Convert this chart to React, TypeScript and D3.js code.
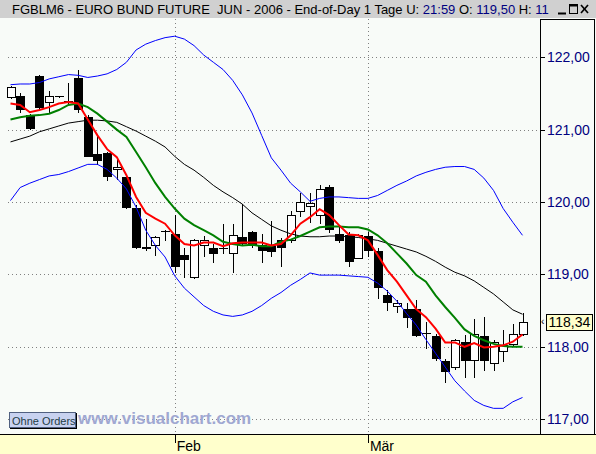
import * as d3 from 'd3'
import { useEffect } from 'react'

// trading days shown (Jan 9 - Mar 23, 2006)
const dates = [
  '2006-01-09', '2006-01-10', '2006-01-11', '2006-01-12', '2006-01-13', '2006-01-16',
  '2006-01-17', '2006-01-18', '2006-01-19', '2006-01-20', '2006-01-23', '2006-01-24',
  '2006-01-25', '2006-01-26', '2006-01-27', '2006-01-30', '2006-01-31',
  '2006-02-01', '2006-02-02', '2006-02-03', '2006-02-06', '2006-02-07', '2006-02-08',
  '2006-02-09', '2006-02-10', '2006-02-13', '2006-02-14', '2006-02-15', '2006-02-16',
  '2006-02-17', '2006-02-20', '2006-02-21', '2006-02-22', '2006-02-23', '2006-02-24',
  '2006-02-27', '2006-02-28',
  '2006-03-01', '2006-03-02', '2006-03-03', '2006-03-06', '2006-03-07', '2006-03-08',
  '2006-03-09', '2006-03-10', '2006-03-13', '2006-03-14', '2006-03-15', '2006-03-16',
  '2006-03-17', '2006-03-20', '2006-03-21', '2006-03-22', '2006-03-23',
]

const open = [
  121.45, 121.46, 121.2, 121.74, 121.38, 121.46, 121.4, 121.71, 121.17, 120.66, 120.67, 120.45,
  120.34, 119.92, 119.38, 119.41, 119.6,
  119.56, 119.27, 118.96, 119.41, 119.37, 119.37, 119.29, 119.51, 119.58, 119.4, 119.39, 119.47,
  119.47, 119.88, 119.94, 119.82, 120.21, 119.56, 119.54, 119.23,
  119.53, 119.33, 118.71, 118.56, 118.52, 118.52, 118.19, 118.15, 117.81, 117.72, 118.07, 117.82,
  118.15, 117.77, 117.94, 118.04, 118.18,
]
const high = [
  121.6, 121.51, 121.22, 121.76, 121.53, 121.47, 121.65, 121.82, 121.2, 120.92, 120.69, 120.59,
  120.37, 119.96, 119.76, 119.53, 119.62,
  119.82, 119.36, 119.49, 119.53, 119.42, 119.7, 119.69, 119.97, 119.6, 119.56, 119.74, 119.5,
  119.88, 120.12, 120.13, 120.23, 120.24, 119.68, 119.58, 119.56,
  119.58, 119.36, 118.78, 118.64, 118.6, 118.64, 118.34, 118.17, 117.83, 118.11, 118.16, 118.39,
  118.41, 118.09, 118.23, 118.32, 118.47,
]
const low = [
  121.44, 121.24, 121.01, 121.28, 121.23, 121.45, 121.36, 121.24, 120.63, 120.52, 120.3, 120.32,
  119.92, 119.36, 119.34, 119.27, 119.48,
  119.03, 118.97, 118.95, 119.25, 119.17, 119.3, 119.03, 119.4, 119.38, 119.17, 119.25, 119.11,
  119.45, 119.8, 119.73, 119.71, 119.59, 119.45, 119.11, 119.22,
  119.25, 118.67, 118.51, 118.48, 118.28, 118.15, 117.98, 117.82, 117.52, 117.7, 117.58, 117.58,
  117.68, 117.68, 117.81, 118.02, 118.16,
]
const close = [
  121.59, 121.29, 121.02, 121.31, 121.46, 121.46, 121.4, 121.29, 120.64, 120.58, 120.36, 120.49,
  119.93, 119.38, 119.36, 119.52, 119.6,
  119.12, 119.21, 119.48, 119.48, 119.3, 119.37, 119.55, 119.44, 119.41, 119.34, 119.32, 119.38,
  119.82, 120.0, 119.98, 120.18, 119.63, 119.47, 119.19, 119.54,
  119.34, 118.82, 118.62, 118.6, 118.41, 118.16, 118.19, 117.84, 117.67, 118.09, 117.82, 118.18,
  117.82, 118.07, 118.02, 118.18, 118.34,
]

// red average
const fastAvg = [
  121.36, 121.34, 121.24, 121.27, 121.31, 121.36, 121.38, 121.36, 121.14, 120.92, 120.73, 120.62,
  120.37, 120.07, 119.85, 119.77, 119.7,
  119.54, 119.42, 119.4, 119.44, 119.44, 119.39, 119.43, 119.44, 119.44, 119.44, 119.4, 119.42,
  119.54, 119.7, 119.79, 119.9, 119.82, 119.68, 119.55, 119.54,
  119.47, 119.27, 119.06, 118.9, 118.71, 118.52, 118.41, 118.25, 118.06, 118.06, 118.0, 118.05,
  117.99, 118.0, 118.02, 118.07, 118.17,
]
// green average
const slowAvg = [
  121.14, 121.17, 121.19, 121.2, 121.22, 121.27, 121.34, 121.36, 121.31, 121.22, 121.11, 121.0,
  120.9, 120.69, 120.48, 120.26, 120.07,
  119.91, 119.77, 119.68, 119.61, 119.54, 119.45, 119.42, 119.4, 119.41, 119.39, 119.39, 119.45,
  119.48, 119.53, 119.59, 119.65, 119.66, 119.66, 119.65, 119.65,
  119.62, 119.54, 119.43, 119.29, 119.15, 118.99, 118.9, 118.71, 118.55, 118.4, 118.24, 118.15,
  118.09, 118.04, 118.01, 118.0, 118.0,
]
// thin black average
const longAvg = [
  120.83, 120.87, 120.91, 120.97, 121.01, 121.05, 121.09, 121.11, 121.13, 121.13, 121.12, 121.1,
  121.04, 120.98, 120.91, 120.84, 120.76,
  120.63, 120.52, 120.44, 120.34, 120.23, 120.14, 120.06, 119.97, 119.85, 119.76, 119.67, 119.61,
  119.56, 119.53, 119.52, 119.52, 119.53, 119.53, 119.52, 119.51,
  119.49, 119.47, 119.43, 119.39, 119.35, 119.31, 119.25, 119.18, 119.1, 119.03, 118.98, 118.91,
  118.82, 118.73, 118.62, 118.51, 118.45,
]
// blue bands
const upperBand = [
  121.62, 121.63, 121.63, 121.65, 121.7, 121.73, 121.76, 121.75, 121.72, 121.74, 121.77, 121.83,
  121.93, 122.1, 122.18, 122.23, 122.27,
  122.29, 122.25, 122.16, 122.03, 121.93, 121.83, 121.68, 121.48, 121.23, 120.92, 120.61, 120.44,
  120.26, 120.14, 120.01, 120.05, 120.07, 120.07, 120.06, 120.05,
  120.05, 120.09, 120.16, 120.23, 120.29, 120.36, 120.41, 120.45, 120.48, 120.49, 120.49, 120.45,
  120.33, 120.16, 119.91, 119.72, 119.54,
]
const lowerBand = [
  120.02, 120.2, 120.26, 120.31, 120.36, 120.38, 120.42, 120.47, 120.52, 120.52, 120.45, 120.33,
  120.18, 119.93, 119.61, 119.4, 119.24,
  118.98, 118.81, 118.69, 118.57, 118.49, 118.44, 118.42, 118.44, 118.49, 118.57, 118.67, 118.75,
  118.85, 118.93, 119.02, 118.99, 118.99, 118.99, 118.98, 118.97,
  118.96, 118.88, 118.77, 118.63, 118.46, 118.3, 118.1, 117.91, 117.72, 117.53, 117.39, 117.26,
  117.19, 117.15, 117.15, 117.24, 117.3,
]

const priceTicks = [117, 118, 119, 120, 121, 122]
const monthDates = ['2006-02-01', '2006-03-01']
const monthLabels = ['Feb', 'Mär']
const lastPrice = 118.34

const titleParts = [
  { text: 'FGBLM6 - EURO BUND FUTURE  JUN - 2006 - End-of-Day 1 Tage U: ', value: false },
  { text: '21:59', value: true },
  { text: ' O: ', value: false },
  { text: '119,50', value: true },
  { text: ' H: ', value: false },
  { text: '11', value: true },
]

const width = 596
const height = 454
const titleHeight = 18
const plotRight = 540
const axisTop = 434
const font = '"Liberation Sans", Arial, sans-serif'
const navy = '#000080'

export default function App() {
  useEffect(() => {
    document.body.style.margin = '0'
  }, [])

  const x = d3.scalePoint(dates, [10.5, 522.5])
  const y = d3.scaleLinear([117, 122], [419.2, 57.2])
  const fmt = (v: number) => d3.format('.2f')(v).replace('.', ',')
  const px = (v: number) => Math.round(v) + 0.5

  const line = d3
    .line<number>()
    .x((_, i) => x(dates[i]) as number)
    .y((d) => y(d))

  return (
    <svg width={width} height={height} style={{ display: 'block' }}>
      <defs>
        <clipPath id="title-clip">
          <rect x={0} y={0} width={554} height={titleHeight} />
        </clipPath>
      </defs>

      {/* title bar */}
      <rect x={0} y={0} width={width} height={titleHeight} fill="#d0d0d0" />
      <text
        x={12}
        y={13.5}
        fontFamily={font}
        fontSize={13}
        style={{ whiteSpace: 'pre' }}
        clipPath="url(#title-clip)"
      >
        {titleParts.map((p, i) => (
          <tspan key={i} fill={p.value ? navy : '#000'}>
            {p.text}
          </tspan>
        ))}
      </text>
      <g stroke="#000" fill="none">
        <line x1={558} x2={566} y1={13.5} y2={13.5} strokeWidth={2} />
        <rect x={569.5} y={4.5} width={8} height={9} />
        <line x1={569.5} x2={577.5} y1={5.5} y2={5.5} strokeWidth={2} />
        <line x1={581} x2={588} y1={5} y2={13} strokeWidth={1.6} />
        <line x1={588} x2={581} y1={5} y2={13} strokeWidth={1.6} />
      </g>

      {/* plot background */}
      <rect x={0} y={titleHeight} width={width} height={axisTop - titleHeight} fill="#f8fbf8" />

      {/* grid */}
      <g stroke="#808080" strokeDasharray="1,3">
        {priceTicks.map((t) => (
          <line key={t} x1={8} x2={plotRight} y1={px(y(t))} y2={px(y(t))} />
        ))}
        {monthDates.map((d) => (
          <line key={d} x1={px(x(d) as number)} x2={px(x(d) as number)} y1={titleHeight + 1} y2={axisTop} />
        ))}
      </g>

      {/* candles */}
      <g>
        {dates.map((d, i) => {
          const cx = Math.round(x(d) as number)
          const up = close[i] >= open[i]
          const top = Math.round(y(Math.max(open[i], close[i])))
          const bot = Math.round(y(Math.min(open[i], close[i])))
          return (
            <g key={d}>
              <line
                x1={cx + 0.5}
                x2={cx + 0.5}
                y1={Math.round(y(high[i]))}
                y2={Math.round(y(low[i])) + 1}
                stroke="#000"
              />
              {bot - top < 1 ? (
                <line x1={cx - 4} x2={cx + 5} y1={top + 0.5} y2={top + 0.5} stroke="#000" />
              ) : (
                <rect
                  x={cx - 3.5}
                  y={top + 0.5}
                  width={8}
                  height={bot - top}
                  fill={up ? '#fff' : '#000'}
                  stroke="#000"
                />
              )}
            </g>
          )
        })}
      </g>

      {/* indicators */}
      <g fill="none">
        <path d={line(upperBand) as string} stroke="#0000ff" strokeWidth={1} />
        <path d={line(lowerBand) as string} stroke="#0000ff" strokeWidth={1} />
        <path d={line(longAvg) as string} stroke="#000" strokeWidth={1} />
        <path d={line(slowAvg) as string} stroke="#008000" strokeWidth={2} />
        <path d={line(fastAvg) as string} stroke="#ff0000" strokeWidth={2} />
      </g>

      {/* watermark and button */}
      <text x={78} y={424} fontFamily={font} fontWeight="bold" fontSize={17} fill="#a0a8d2">
        www.visualchart.com
      </text>
      <rect x={9.5} y={412.5} width={66} height={15} fill="#c8d2f0" stroke="#506080" />
      <line x1={76.5} x2={76.5} y1={413} y2={429} stroke="#000" />
      <line x1={10} x2={77} y1={428.5} y2={428.5} stroke="#000" />
      <text x={12} y={424.5} fontFamily={font} fontSize={11} fill="#1e3c46">
        Ohne Orders
      </text>

      {/* right price axis */}
      <rect x={plotRight} y={titleHeight + 1} width={width - plotRight} height={axisTop - titleHeight - 1} fill="#f8fbf8" />
      <g stroke="#000" fill="none">
        <line x1={plotRight + 0.5} x2={plotRight + 0.5} y1={titleHeight + 1} y2={axisTop} />
        <line x1={width - 1.5} x2={width - 1.5} y1={titleHeight + 1} y2={axisTop} />
        <line x1={plotRight} x2={width - 1} y1={titleHeight + 1.5} y2={titleHeight + 1.5} />
      </g>
      {priceTicks.map((t) => (
        <g key={t}>
          <line x1={plotRight} x2={plotRight + 5} y1={px(y(t))} y2={px(y(t))} stroke="#000" />
          <text x={547} y={y(t)} dy="0.36em" fontFamily={font} fontSize={14} fill={navy}>
            {fmt(t)}
          </text>
        </g>
      ))}
      <text x={541} y={y(lastPrice)} dy="0.33em" fontFamily={font} fontSize={10} fill="#000">
        ‹
      </text>
      <rect x={546.5} y={Math.round(y(lastPrice)) - 7.5} width={46} height={16} fill="#ffffcc" stroke="#000" />
      <text x={548.5} y={y(lastPrice)} dy="0.36em" fontFamily={font} fontSize={14} fill="#000">
        {fmt(lastPrice)}
      </text>

      {/* time axis */}
      <rect x={0} y={axisTop} width={width} height={height - axisTop} fill="#ffffcc" />
      <line x1={0} x2={width} y1={axisTop + 0.5} y2={axisTop + 0.5} stroke="#000" />
      {monthDates.map((d, i) => (
        <g key={d}>
          <line
            x1={px(x(d) as number)}
            x2={px(x(d) as number)}
            y1={axisTop}
            y2={axisTop + 9}
            stroke="#000"
          />
          <text x={(x(d) as number) + 2} y={451} fontFamily={font} fontSize={14} fill="#000">
            {monthLabels[i]}
          </text>
        </g>
      ))}
    </svg>
  )
}
